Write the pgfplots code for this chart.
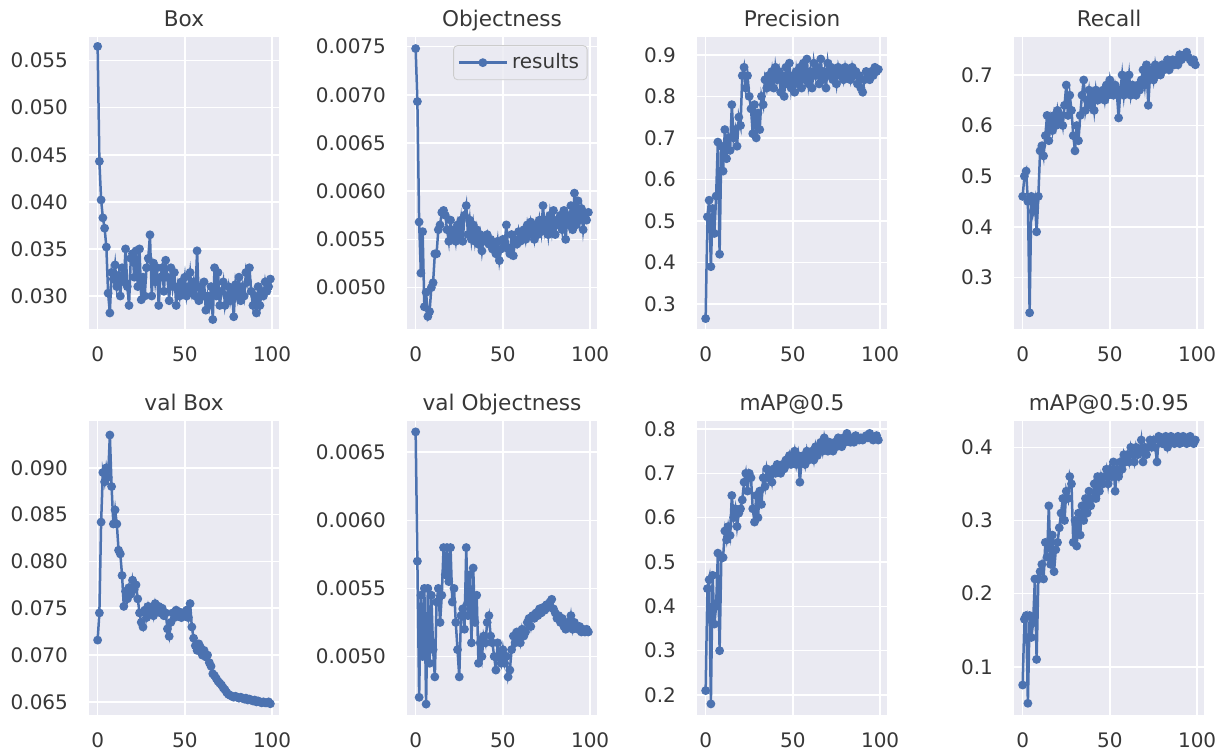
\documentclass[border=0pt]{standalone}
\usepackage{fontspec}
\setmainfont{DejaVu Sans}
\usepackage{pgfplots}
\usepackage{pgfplotstable}
\pgfplotsset{compat=1.18}

\definecolor{sbblue}{RGB}{76,114,176}
\definecolor{sbbg}{RGB}{234,234,242}
\definecolor{sbtext}{RGB}{55,55,55}
\definecolor{lightgray204}{RGB}{204,204,204}

% one row per epoch: train box/obj, P, R, val box/obj, mAP@0.5, mAP@0.5:0.95
\pgfplotstableread{
ep box obj prec rec vbox vobj mapa mapb
0 0.0565 0.00748 0.265 0.46 0.0716 0.00665 0.21 0.075
1 0.0443 0.00693 0.51 0.50 0.0745 0.00570 0.44 0.165
2 0.0402 0.00568 0.55 0.51 0.0842 0.00470 0.46 0.17
3 0.0383 0.00515 0.39 0.45 0.0895 0.00545 0.18 0.05
4 0.0372 0.00558 0.53 0.23 0.0885 0.00500 0.47 0.17
5 0.0352 0.00480 0.47 0.46 0.0900 0.00550 0.36 0.14
6 0.0303 0.00495 0.56 0.43 0.0890 0.00465 0.40 0.16
7 0.0282 0.00470 0.69 0.45 0.0935 0.00550 0.52 0.22
8 0.0325 0.00475 0.42 0.39 0.0880 0.00495 0.30 0.11
9 0.0318 0.00500 0.68 0.46 0.0840 0.00545 0.51 0.22
10 0.0333 0.00505 0.62 0.55 0.0855 0.00505 0.51 0.23
11 0.0310 0.00535 0.72 0.56 0.0840 0.00485 0.57 0.24
12 0.0322 0.00535 0.65 0.54 0.0812 0.00540 0.55 0.22
13 0.0300 0.00560 0.70 0.58 0.0808 0.00550 0.58 0.27
14 0.0330 0.00565 0.67 0.62 0.0785 0.00525 0.56 0.25
15 0.0315 0.00578 0.78 0.57 0.0752 0.00545 0.65 0.32
16 0.0350 0.00580 0.70 0.61 0.0768 0.00580 0.60 0.24
17 0.0310 0.00575 0.72 0.59 0.0760 0.00560 0.62 0.28
18 0.0290 0.00560 0.68 0.62 0.0772 0.00580 0.58 0.23
19 0.0340 0.00548 0.75 0.60 0.0765 0.00555 0.61 0.26
20 0.0345 0.00570 0.73 0.63 0.0780 0.00580 0.62 0.27
21 0.0320 0.00552 0.85 0.61 0.0770 0.00540 0.64 0.29
22 0.0348 0.00560 0.87 0.62 0.0775 0.00550 0.68 0.31
23 0.0310 0.00548 0.82 0.60 0.0760 0.00525 0.70 0.33
24 0.0350 0.00565 0.85 0.64 0.0745 0.00505 0.66 0.30
25 0.0296 0.00555 0.80 0.68 0.0735 0.00485 0.70 0.34
26 0.0320 0.00570 0.77 0.62 0.0730 0.00530 0.69 0.33
27 0.0300 0.00548 0.71 0.66 0.0748 0.00535 0.62 0.36
28 0.0330 0.00575 0.78 0.63 0.0740 0.00520 0.59 0.35
29 0.0340 0.00585 0.70 0.58 0.0752 0.00580 0.65 0.27
30 0.0365 0.00555 0.76 0.55 0.0745 0.00530 0.60 0.30
31 0.0300 0.00570 0.72 0.60 0.0750 0.00560 0.66 0.265
32 0.0335 0.00550 0.80 0.57 0.0742 0.00510 0.63 0.31
33 0.0315 0.00565 0.78 0.62 0.0755 0.00565 0.69 0.28
34 0.0330 0.00548 0.84 0.66 0.0748 0.00525 0.67 0.32
35 0.0290 0.00560 0.82 0.69 0.0752 0.00545 0.71 0.30
36 0.0320 0.00545 0.85 0.63 0.0745 0.00495 0.69 0.33
37 0.0330 0.00555 0.83 0.65 0.0750 0.00510 0.70 0.31
38 0.0305 0.00538 0.86 0.67 0.0742 0.00500 0.68 0.34
39 0.0338 0.00552 0.82 0.64 0.0745 0.00515 0.71 0.32
40 0.0320 0.00548 0.87 0.66 0.0728 0.00510 0.70 0.33
41 0.0295 0.00555 0.84 0.63 0.0720 0.00525 0.72 0.35
42 0.0330 0.00545 0.86 0.67 0.0735 0.00530 0.71 0.33
43 0.0310 0.00550 0.81 0.65 0.0745 0.00515 0.70 0.36
44 0.0325 0.00540 0.85 0.66 0.0740 0.00510 0.72 0.34
45 0.0290 0.00545 0.80 0.655 0.0748 0.00500 0.71 0.36
46 0.0310 0.00535 0.87 0.67 0.0742 0.00490 0.73 0.35
47 0.0300 0.00548 0.83 0.65 0.0746 0.00510 0.72 0.36
48 0.0315 0.00528 0.88 0.68 0.0740 0.00500 0.74 0.37
49 0.0305 0.00540 0.82 0.66 0.0745 0.00495 0.72 0.35
50 0.0320 0.00550 0.85 0.69 0.0742 0.00505 0.73 0.37
51 0.0300 0.00545 0.81 0.67 0.0748 0.00495 0.75 0.36
52 0.0310 0.00565 0.86 0.66 0.0740 0.00500 0.72 0.38
53 0.0325 0.00540 0.83 0.68 0.0755 0.00485 0.74 0.34
54 0.0305 0.00535 0.87 0.665 0.0730 0.00490 0.68 0.37
55 0.0315 0.00555 0.82 0.615 0.0718 0.00505 0.73 0.36
56 0.0300 0.00533 0.88 0.67 0.0710 0.00515 0.74 0.38
57 0.0348 0.00550 0.84 0.70 0.0705 0.00510 0.72 0.37
58 0.0295 0.00545 0.89 0.66 0.0712 0.00518 0.75 0.39
59 0.0310 0.00558 0.83 0.69 0.0708 0.00515 0.73 0.38
60 0.0300 0.00548 0.86 0.67 0.0700 0.00510 0.74 0.39
61 0.0315 0.00555 0.82 0.70 0.0705 0.00520 0.75 0.38
62 0.0285 0.00560 0.88 0.66 0.0698 0.00515 0.73 0.40
63 0.0300 0.00550 0.85 0.68 0.0700 0.00518 0.76 0.39
64 0.0290 0.00565 0.87 0.67 0.0692 0.00525 0.74 0.38
65 0.0310 0.00555 0.83 0.66 0.0688 0.00528 0.75 0.40
66 0.0275 0.00568 0.89 0.68 0.0680 0.00522 0.77 0.39
67 0.0330 0.00560 0.84 0.67 0.0678 0.00530 0.75 0.395
68 0.0300 0.00550 0.86 0.69 0.0675 0.00528 0.78 0.41
69 0.0325 0.00565 0.82 0.71 0.0672 0.00532 0.76 0.38
70 0.0290 0.00555 0.88 0.68 0.0670 0.00530 0.75 0.40
71 0.0305 0.00570 0.85 0.72 0.0668 0.00535 0.77 0.39
72 0.0315 0.00558 0.87 0.64 0.0665 0.00532 0.76 0.40
73 0.0290 0.00585 0.84 0.70 0.0663 0.00536 0.75 0.41
74 0.0300 0.00560 0.86 0.71 0.0660 0.00534 0.77 0.40
75 0.0310 0.00570 0.83 0.69 0.0658 0.00538 0.76 0.41
76 0.0295 0.00555 0.87 0.72 0.0657 0.00536 0.78 0.40
77 0.0305 0.00575 0.85 0.70 0.0656 0.00540 0.77 0.38
78 0.0278 0.00560 0.86 0.71 0.0655 0.00542 0.76 0.415
79 0.0312 0.00580 0.84 0.70 0.0656 0.00535 0.78 0.41
80 0.0300 0.00555 0.87 0.72 0.0655 0.00532 0.77 0.405
81 0.0320 0.00570 0.85 0.71 0.0654 0.00528 0.79 0.41
82 0.0295 0.00565 0.86 0.72 0.0655 0.00530 0.78 0.415
83 0.0310 0.00575 0.84 0.73 0.0654 0.00525 0.77 0.40
84 0.0300 0.00560 0.87 0.71 0.0653 0.00528 0.78 0.41
85 0.0325 0.00580 0.85 0.72 0.0654 0.00522 0.77 0.415
86 0.0315 0.00550 0.86 0.73 0.0652 0.00520 0.785 0.41
87 0.0330 0.00575 0.83 0.72 0.0653 0.00525 0.78 0.405
88 0.0305 0.00565 0.85 0.73 0.0652 0.00522 0.775 0.41
89 0.0290 0.00585 0.82 0.72 0.0651 0.00530 0.78 0.415
90 0.0300 0.00560 0.81 0.74 0.0652 0.00520 0.775 0.405
91 0.0282 0.00598 0.84 0.73 0.0650 0.00525 0.78 0.41
92 0.0310 0.00565 0.86 0.735 0.0651 0.00522 0.785 0.415
93 0.0290 0.00590 0.85 0.74 0.0650 0.00520 0.78 0.41
94 0.0305 0.00570 0.84 0.745 0.0649 0.00522 0.79 0.405
95 0.0300 0.00582 0.86 0.735 0.0650 0.00518 0.78 0.41
96 0.0315 0.00560 0.85 0.73 0.0649 0.00520 0.775 0.415
97 0.0305 0.00575 0.87 0.725 0.0649 0.00518 0.78 0.41
98 0.0310 0.00570 0.86 0.73 0.0650 0.00520 0.785 0.405
99 0.0318 0.00578 0.865 0.72 0.0648 0.00518 0.775 0.41
}\results

\pgfplotsset{
  panel/.style={
    scale only axis, width=95pt, height=146pt, anchor=south west,
    axis background/.style={fill=sbbg},
    axis line style={draw=none},
    major tick length=0pt,
    xmajorgrids, ymajorgrids,
    grid style={white, line width=0.8pt},
    xmin=-4.95, xmax=103.95, xtick={0,50,100},
    scaled ticks=false,
    tick label style={font=\fontsize{10}{12}\selectfont, text=sbtext},
    /pgf/number format/assume math mode=true,
    xticklabel style={yshift=-5.5pt},
    yticklabel style={xshift=-7pt},
    every axis title/.style={at={(0.5,1)}, anchor=base, yshift=5pt,
      font=\fontsize{10.8}{13}\selectfont, text=sbtext},
  },
  ydec/.style={yticklabel style={/pgf/number format/.cd, fixed, fixed zerofill, precision=#1}},
  curve/.style={sbblue, line width=1.25pt, mark=*, mark size=1.55pt, mark options={solid}},
}

\begin{document}
\begin{tikzpicture}
\useasboundingbox (0,0) rectangle (612pt,376.5pt);

% top row
\begin{axis}[panel, at={(44.5pt,212pt)}, title={Box},
  ymin=0.0265, ymax=0.0575, ytick={0.030,0.035,0.040,0.045,0.050,0.055}, ydec=3]
\addplot [curve] table [x=ep, y=box] {\results};
\end{axis}

\begin{axis}[panel, at={(203.5pt,212pt)}, title={Objectness},
  ymin=0.00457, ymax=0.0076, ytick={0.0050,0.0055,0.0060,0.0065,0.0070,0.0075}, ydec=4,
  legend style={at={(0.95,0.972)}, anchor=north east, fill=sbbg, fill opacity=0.8,
    draw opacity=1, text opacity=1, draw=lightgray204, rounded corners=2pt,
    font=\fontsize{10}{12}\selectfont, text=sbtext, inner sep=2pt},
  legend image code/.code={\draw[mark repeat=2,mark phase=2] plot coordinates {(0pt,0pt) (12pt,0pt) (24pt,0pt)};}]
\addplot [curve] table [x=ep, y=obj] {\results};
\addlegendentry{results}
\end{axis}

\begin{axis}[panel, at={(348.5pt,212pt)}, title={Precision},
  ymin=0.24, ymax=0.943, ytick={0.3,0.4,0.5,0.6,0.7,0.8,0.9}, ydec=1]
\addplot [curve] table [x=ep, y=prec] {\results};
\end{axis}

\begin{axis}[panel, at={(507pt,212pt)}, title={Recall},
  ymin=0.198, ymax=0.775, ytick={0.3,0.4,0.5,0.6,0.7}, ydec=1]
\addplot [curve] table [x=ep, y=rec] {\results};
\end{axis}

% bottom row
\begin{axis}[panel, at={(44.5pt,19pt)}, height=147pt, title={val Box},
  ymin=0.0636, ymax=0.0950, ytick={0.065,0.070,0.075,0.080,0.085,0.090}, ydec=3]
\addplot [curve] table [x=ep, y=vbox] {\results};
\end{axis}

\begin{axis}[panel, at={(203.5pt,19pt)}, height=147pt, title={val Objectness},
  ymin=0.00457, ymax=0.00673, ytick={0.0050,0.0055,0.0060,0.0065}, ydec=4]
\addplot [curve] table [x=ep, y=vobj] {\results};
\end{axis}

\begin{axis}[panel, at={(348.5pt,19pt)}, height=147pt, title={mAP@0.5},
  ymin=0.155, ymax=0.818, ytick={0.2,0.3,0.4,0.5,0.6,0.7,0.8}, ydec=1]
\addplot [curve] table [x=ep, y=mapa] {\results};
\end{axis}

\begin{axis}[panel, at={(507pt,19pt)}, height=147pt, title={mAP@0.5:0.95},
  ymin=0.034, ymax=0.436, ytick={0.1,0.2,0.3,0.4}, ydec=1]
\addplot [curve] table [x=ep, y=mapb] {\results};
\end{axis}
\end{tikzpicture}
\end{document}
